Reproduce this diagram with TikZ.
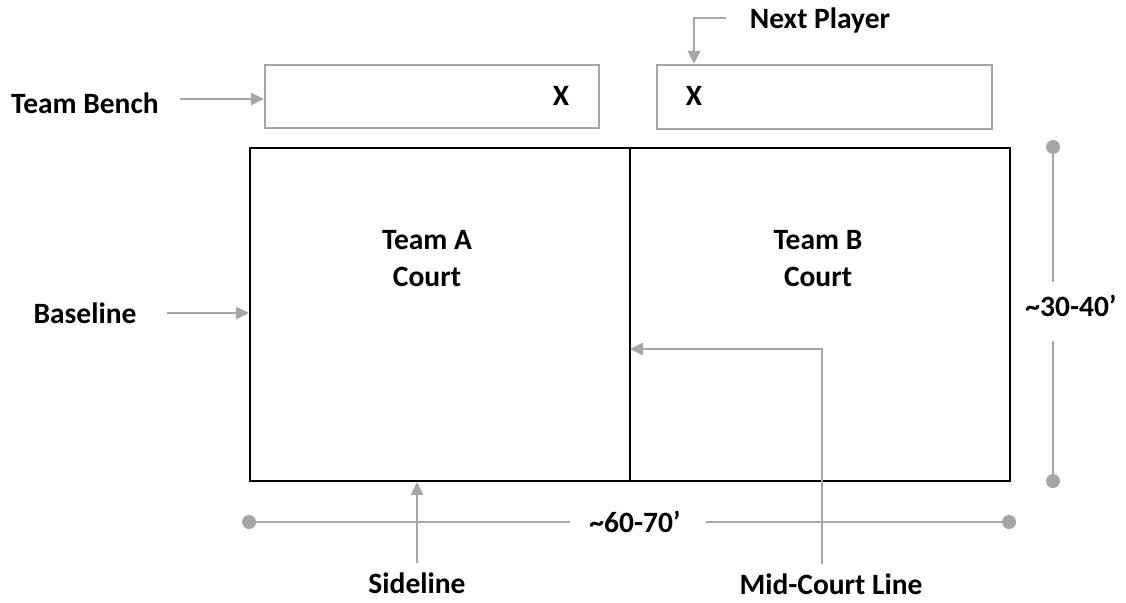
\documentclass[tikz,border=0pt]{standalone}
\usepackage{fontspec}
\setmainfont{Carlito}
\usetikzlibrary{arrows.meta}
\definecolor{lg}{HTML}{A6A6A6}
\begin{document}
\begin{tikzpicture}[x=1pt,y=-1pt,
  lbl/.style={font=\bfseries\fontsize{29.5}{37}\selectfont, inner sep=0pt, align=center},
  gline/.style={draw=lg, line width=2.5pt},
  garrow/.style={gline, -{Triangle[length=13pt,width=12pt]}},
  benchbox/.style={draw=lg, line width=2pt, inner sep=0pt, anchor=north west},
  dot/.style={circle, fill=lg, minimum size=14pt, inner sep=0pt}]
\useasboundingbox (0,0) rectangle (1126,602);
\fill[white] (0,0) rectangle (1126,602);
% court
\node[draw, line width=2pt, minimum width=760pt, minimum height=333pt, inner sep=0pt, anchor=north west] (court) at (249,147) {};
\coordinate (mt) at (630,147);
\coordinate (mb) at (630,480);
\draw[line width=2pt] (mt) -- (mb);
% benches
\node[benchbox, minimum width=334pt, minimum height=63pt] (bench) at (264,64) {};
\node[benchbox, minimum width=335pt, minimum height=64pt] (next) at (656,64) {};
\node[lbl] (xa) at (561,96) {X};
\node[lbl] (xb) at (694,96) {X};
% labels
\node[lbl] (tb) at (85,103) {Team Bench};
\node[lbl] (np) at (820,20) {Next Player};
\node[lbl] (bl) at (85,313) {Baseline};
\node[lbl, anchor=base] (sl) at (417,593) {Sideline};
\node[lbl, anchor=base] (mcl) at (831,594) {Mid-Court Line};
\node[lbl] (ta) at (427,259) {Team A\\Court};
\node[lbl] (tbc) at (818,259) {Team B\\Court};
\node[lbl] (len) at (635,522) {\textasciitilde 60-70’};
\node[lbl] (wid) at (1071,306) {\textasciitilde 30-40’};
% arrows
\coordinate (tb1) at (180,99);
\draw[garrow] (tb1) -- (tb1 -| bench.west);
\coordinate (np1) at (726,18);
\coordinate (np2) at (694,64);
\draw[garrow] (np1) -| (np2);
\coordinate (bl1) at (167,313);
\draw[garrow] (bl1) -- (bl1 -| court.west);
\coordinate (sl1) at (417,563);
\draw[garrow] (sl1) -- (sl1 |- court.south);
\coordinate (mc1) at (822,564);
\coordinate (mc2) at (630,349);
\draw[garrow] (mc1) |- (mc2);
% dimensions
\node[dot] (d1) at (249,522) {};
\node[dot] (d2) at (1009,522) {};
\coordinate (h1) at (570,522);
\coordinate (h2) at (706,522);
\draw[gline] (d1.center) -- (h1);
\draw[gline] (h2) -- (d2.center);
\node[dot] (d3) at (1053,147) {};
\node[dot] (d4) at (1053,481) {};
\coordinate (v1) at (1053,282);
\coordinate (v2) at (1053,341);
\draw[gline] (d3.center) -- (v1);
\draw[gline] (v2) -- (d4.center);
\end{tikzpicture}
\end{document}
